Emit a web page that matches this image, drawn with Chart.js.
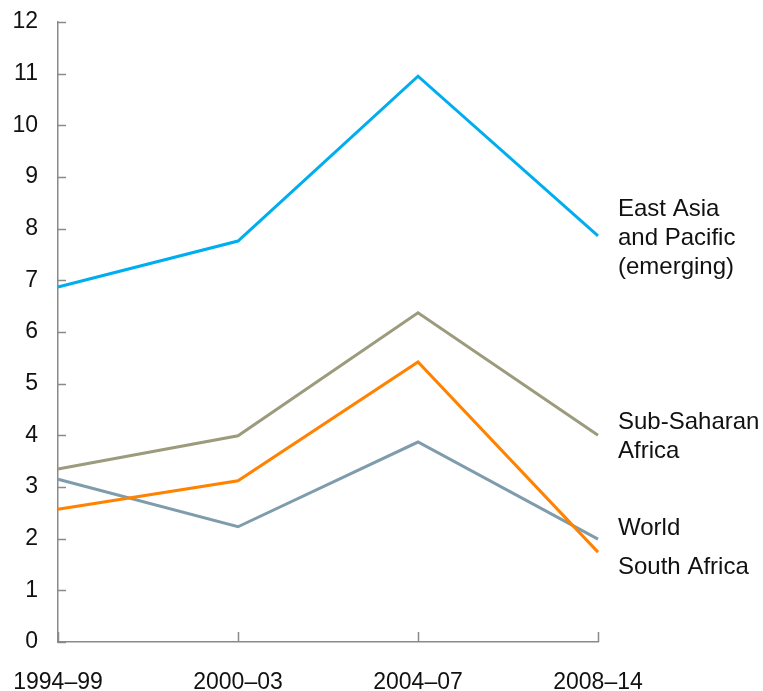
<!DOCTYPE html>
<html>
<head>
<meta charset="utf-8">
<script src="https://cdn.jsdelivr.net/npm/chart.js@4"></script>
<style>
  html, body { margin: 0; padding: 0; background: #fff; }
  #wrap { width: 763px; height: 691px; position: relative; }
</style>
</head>
<body>
<div id="wrap"><canvas id="linechart"></canvas></div>
<script>
const periods = ['1994–99', '2000–03', '2004–07', '2008–14'];
const eastAsia = [6.87, 7.76, 10.95, 7.86];
const subSaharan = [3.35, 3.99, 6.37, 4.0];
const southAfrica = [2.57, 3.12, 5.42, 1.74];
const world = [3.15, 2.23, 3.87, 1.99];
const yTicks = [0, 1, 2, 3, 4, 5, 6, 7, 8, 9, 10, 11, 12];

const FONT = '"Liberation Sans", Arial, sans-serif';
const AXIS = '#8a8a8a';

// end-of-line labels, y in pixels
const endLabels = [
    { lines: ['East Asia', 'and Pacific', '(emerging)'], y: 209 },
    { lines: ['Sub-Saharan', 'Africa'], y: 422 },
    { lines: ['World'], y: 528 },
    { lines: ['South Africa'], y: 567 }
];

// ticks point into the plot, and the series names sit right of the lines
const inwardTicks = {
    id: 'inwardTicks',
    afterDraw(chart) {
        const ctx = chart.ctx;
        const x = chart.scales.x, y = chart.scales.y;
        ctx.save();
        ctx.strokeStyle = AXIS;
        ctx.lineWidth = 1.5;
        ctx.beginPath();
        y.ticks.forEach((t, i) => {
            const py = Math.round(y.getPixelForTick(i)) + 0.5;
            ctx.moveTo(y.right, py);
            ctx.lineTo(y.right + 8, py);
        });
        x.ticks.forEach((t, i) => {
            const px = Math.round(x.getPixelForTick(i)) + 0.5;
            ctx.moveTo(px, x.top);
            ctx.lineTo(px, x.top - 10);
        });
        ctx.stroke();

        ctx.fillStyle = '#111';
        ctx.font = '24px ' + FONT;
        ctx.textAlign = 'left';
        ctx.textBaseline = 'middle';
        endLabels.forEach(l => {
            l.lines.forEach((s, i) => ctx.fillText(s, chart.chartArea.right + 20, l.y + i * 29));
        });
        ctx.restore();
    }
};

const ctx = document.getElementById('linechart').getContext('2d');
const linechart = new Chart(ctx, {
    type: 'line',
    data: {
        labels: periods,
        datasets: [
            { label: 'East Asia and Pacific (emerging)', data: eastAsia, borderColor: '#00aeef' },
            { label: 'Sub-Saharan Africa', data: subSaharan, borderColor: '#9c9b7e' },
            { label: 'South Africa', data: southAfrica, borderColor: '#ff8200' },
            { label: 'World', data: world, borderColor: '#7f9cac' }
        ]
    },
    options: {
        responsive: true,
        maintainAspectRatio: false,
        animation: false,
        layout: { padding: { top: 22, right: 165, left: 0, bottom: 0 } },
        elements: {
            line: { borderWidth: 3, tension: 0, fill: false, borderJoinStyle: 'miter', borderCapStyle: 'butt' },
            point: { radius: 0, hoverRadius: 0 }
        },
        scales: {
            x: {
                offset: false,
                grid: { display: true, color: 'rgba(0,0,0,0)', drawOnChartArea: false, drawTicks: true, tickLength: 27 },
                border: { display: true, color: AXIS, width: 1.5 },
                ticks: { color: '#111', font: { family: FONT, size: 23 }, padding: 0, maxRotation: 0, autoSkip: false },
                afterFit(s) { s.height = 49; }
            },
            y: {
                min: 0,
                max: 12,
                grid: { display: true, color: 'rgba(0,0,0,0)', drawOnChartArea: false, drawTicks: true, tickLength: 20 },
                border: { display: true, color: AXIS, width: 1.5 },
                afterBuildTicks(s) { s.ticks = yTicks.map(v => ({ value: v })); },
                ticks: { color: '#111', font: { family: FONT, size: 23 }, padding: 0 },
                afterFit(s) { s.width = 58; }
            }
        },
        plugins: {
            legend: { display: false },
            tooltip: { enabled: false },
            title: { display: false }
        }
    },
    plugins: [inwardTicks]
});
</script>
</body>
</html>
